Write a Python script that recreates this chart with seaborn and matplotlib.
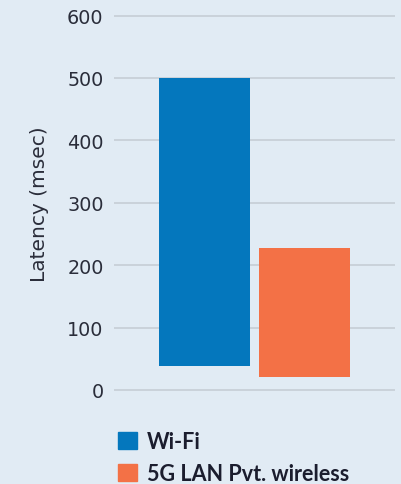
import pandas as pd
import seaborn as sns
import matplotlib.pyplot as plt

# floating bars: each bar runs from a low to a high latency value
categories = ["Wi-Fi", "5G LAN Pvt. wireless"]
latency_low = [38, 20]
latency_high = [500, 227]
yticks = [0, 100, 200, 300, 400, 500, 600]

BG = "#e1ebf4"
COLORS = ["#0477bd", "#f37146"]

df = pd.DataFrame({"network": categories,
                   "span": [h - l for h, l in zip(latency_high, latency_low)],
                   "low": latency_low})

sns.set_style("white")
plt.rcParams["font.family"] = ["Lato", "DejaVu Sans"]

fig = plt.figure(figsize=(4.01, 4.85), dpi=100, facecolor=BG)
ax = fig.add_axes([114 / 401, (485 - 394.1) / 485, 281 / 401, (394.1 - 13.4) / 485])
ax.set_facecolor(BG)

sns.barplot(data=df, x="network", y="span", hue="network", palette=COLORS,
            width=0.91, dodge=False, legend=False, ax=ax, saturation=1, linewidth=0)
# lift each bar to its starting value
for bar, low in zip(ax.patches, df["low"]):
    bar.set_y(low)

ax.set_ylim(-5, 605)
ax.set_xlim(-0.905, 1.905)
ax.set_yticks(yticks)
ax.set_xticks([])
ax.set_xlabel("")
ax.set_ylabel("Latency (msec)", fontsize=14.5, color="#2a2d3a", labelpad=13,
              family="DejaVu Sans")
ax.tick_params(axis="y", length=0, pad=7.5, labelsize=13.8, labelcolor="#2a2d3a")
for lbl in ax.get_yticklabels():
    lbl.set_family("DejaVu Sans")
ax.yaxis.grid(True, color="#c6cdd5", linewidth=1.2)
ax.set_axisbelow(True)
sns.despine(ax=ax, left=True, bottom=True)

handles = [plt.Rectangle((0, 0), 1, 1, color=c) for c in COLORS]
fig.legend(handles, categories, loc="upper left", bbox_to_anchor=(118 / 401, 1 - 432 / 485),
           frameon=False, prop={"weight": "bold", "size": 15.5},
           handlelength=0.88, handleheight=0.88, handletextpad=0.46, labelspacing=0.5,
           labelcolor="#1b1d2e", borderaxespad=0, borderpad=0)

fig.savefig("out.png", dpi=100, facecolor=BG)
